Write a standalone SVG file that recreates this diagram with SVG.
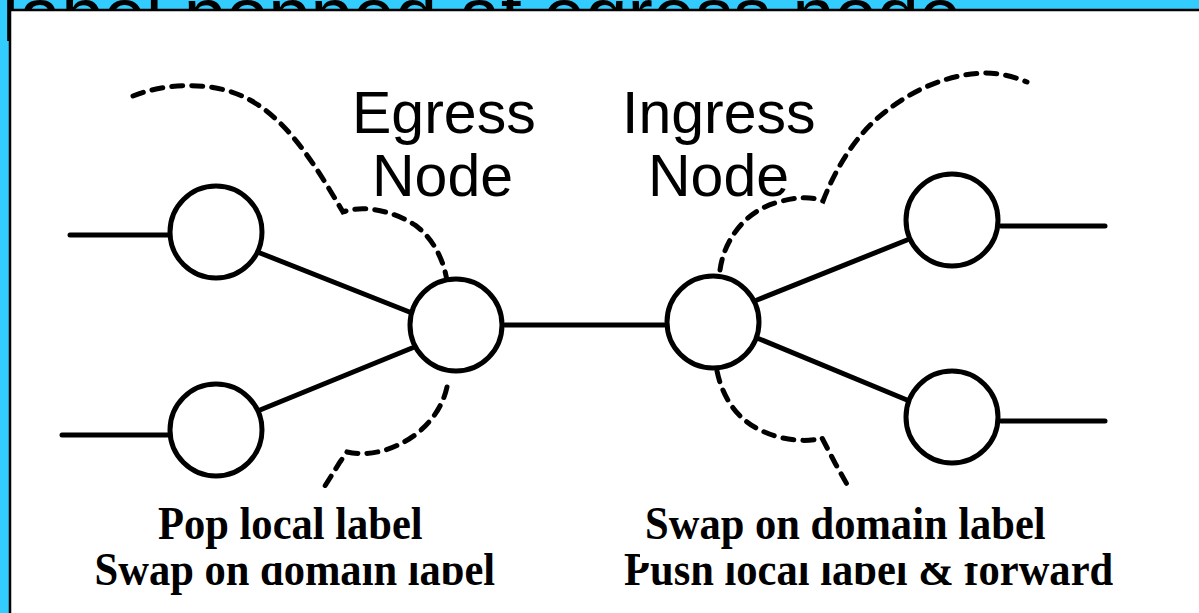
<svg xmlns="http://www.w3.org/2000/svg" width="1199" height="613" viewBox="0 0 1199 613">
  <style>
    .title { font-family: "Liberation Sans", Arial, sans-serif; font-size: 76px; fill: #000; }
    .node-label { font-family: "Liberation Sans", Arial, sans-serif; font-size: 59px; fill: #000; }
    .note { font-family: "Liberation Serif", "Times New Roman", serif; font-weight: bold; font-size: 46px; fill: #000; }
    .link { stroke: #000; stroke-width: 5; stroke-linecap: round; fill: none; }
    .domain { stroke: #000; stroke-width: 5; stroke-dasharray: 11 9; stroke-linecap: round; fill: none; }
    .router { fill: #fff; stroke: #000; stroke-width: 5; }
    .cover { fill: #fff; }
  </style>

  <!-- slide background and title (mostly hidden behind the panel) -->
  <rect x="0" y="0" width="1199" height="613" fill="#33ccff"/>
  <text class="title" x="2" y="41">label popped at egress node</text>
  <rect x="10" y="10" width="1300" height="700" fill="#fff" stroke="#000" stroke-width="2.5"/>

  <!-- connectors: links between routers and domain boundaries -->
  <g id="connectors">
    <line class="link" x1="70" y1="235" x2="169" y2="235"/>
    <line class="link" x1="62" y1="435" x2="169" y2="435"/>
    <line class="link" x1="260" y1="253" x2="412" y2="313"/>
    <line class="link" x1="260" y1="410" x2="412" y2="348"/>
    <line class="link" x1="505" y1="325" x2="664" y2="325"/>
    <line class="link" x1="757" y1="300" x2="907" y2="240"/>
    <line class="link" x1="757" y1="338" x2="907" y2="400"/>
    <line class="link" x1="1001" y1="226" x2="1105" y2="226"/>
    <line class="link" x1="1001" y1="421" x2="1105" y2="421"/>

    <path class="domain" d="M133,96 C165,83 215,80 250,100 C290,122 318,170 343,212 C365,204 395,212 415,225 C435,240 444,262 447,281"/>
    <path class="domain" d="M447,387 C442,410 425,432 400,444 C385,452 365,456 347,452 L340,462 L318,497"/>
    <path class="domain" d="M720,270 C724,240 745,212 775,203 C795,197 810,196 823,201 C835,170 855,135 885,112 C915,88 950,74 985,73 C1000,73 1015,77 1027,82"/>
    <path class="domain" d="M717,371 C722,395 735,418 760,430 C780,440 805,443 822,438 L835,463 L853,495"/>
  </g>

  <!-- routers -->
  <g id="router-left-top"><circle class="router" cx="216" cy="232" r="46"/></g>
  <g id="router-left-bottom"><circle class="router" cx="216" cy="430" r="46"/></g>
  <g id="egress-node"><circle class="router" cx="456" cy="325" r="46"/></g>
  <g id="ingress-node"><circle class="router" cx="713" cy="322" r="46"/></g>
  <g id="router-right-top"><circle class="router" cx="952" cy="220" r="46"/></g>
  <g id="router-right-bottom"><circle class="router" cx="952" cy="417" r="46"/></g>

  <!-- node captions -->
  <g id="egress-label">
    <text class="node-label" x="352" y="133">Egress</text>
    <text class="node-label" x="372" y="196">Node</text>
  </g>
  <g id="ingress-label">
    <text class="node-label" x="622" y="133">Ingress</text>
    <text class="node-label" x="648" y="196">Node</text>
  </g>

  <!-- actions: second lines sit partly under the first lines' boxes -->
  <g id="egress-actions">
    <text class="note" transform="translate(94.5,585) scale(0.925,1)">Swap on domain label</text>
    <rect class="cover" x="130" y="488" width="340" height="75"/>
    <text class="note" transform="translate(158,539) scale(0.925,1)">Pop local label</text>
  </g>
  <g id="ingress-actions">
    <text class="note" transform="translate(624,585) scale(0.925,1)">Push local label &amp; forward</text>
    <rect class="cover" x="640" y="488" width="420" height="75"/>
    <text class="note" transform="translate(645,539) scale(0.925,1)">Swap on domain label</text>
  </g>
</svg>
